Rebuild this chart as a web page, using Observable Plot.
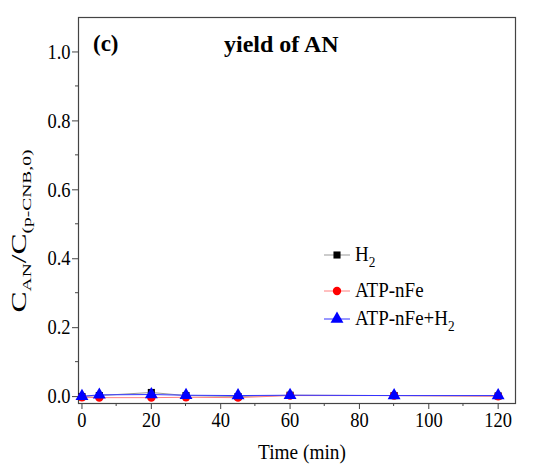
<!DOCTYPE html>
<html>
<head>
<meta charset="utf-8">
<script src="https://cdn.jsdelivr.net/npm/d3@7"></script>
<script src="https://cdn.jsdelivr.net/npm/@observablehq/plot@0.6"></script>
<style>
  html, body { margin: 0; padding: 0; background: #fff; }
  svg { display: block; }
  svg text { font-family: "Liberation Serif", "DejaVu Serif", serif; }
</style>
</head>
<body>
<div id="chart"></div>
<script>
const times = [0, 5, 20, 30, 45, 60, 90, 120];
const h2 = [0.000, 0.003, 0.012, 0.003, 0.000, 0.004, 0.003, 0.002];
const atp = [-0.002, -0.003, -0.003, -0.002, -0.003, 0.003, 0.003, 0.001];
const atpH2 = [0.001, 0.005, 0.006, 0.004, 0.003, 0.004, 0.003, 0.003];
const seriesNames = ["H2", "ATP-nFe", "ATP-nFe+H2"];
const xTicks = [0, 20, 40, 60, 80, 100, 120];
const xMinor = [10, 30, 50, 70, 90, 110];
const yTicks = [0.0, 0.2, 0.4, 0.6, 0.8, 1.0];
const yMinor = [0.1, 0.3, 0.5, 0.7, 0.9];

const styles = [
  {name: seriesNames[0], values: h2, line: "#999999", fill: "#000000", symbol: "square", r: 4},
  {name: seriesNames[1], values: atp, line: "#ff8080", fill: "#ff0000", symbol: "circle", r: 4.2},
  {name: seriesNames[2], values: atpH2, line: "#3333ff", fill: "#0000ff", symbol: "triangle", r: 4.8}
];
const rows = styles.flatMap(s => times.map((t, i) => ({series: s.name, t, v: s.values[i]})));

const axisColor = "#444";
const marks = [];
for (const s of styles) {
  const d = rows.filter(r => r.series === s.name);
  marks.push(Plot.line(d, {x: "t", y: "v", stroke: s.line, strokeWidth: 1}));
}
for (const s of styles) {
  const d = rows.filter(r => r.series === s.name);
  marks.push(Plot.dot(d, {x: "t", y: "v", fill: s.fill, stroke: "none", symbol: s.symbol, r: s.r}));
}

const chart = Plot.plot({
  width: 534,
  height: 473,
  marginLeft: 78,
  marginRight: 19,
  marginTop: 17,
  marginBottom: 70,
  style: {fontFamily: "'Liberation Serif', 'DejaVu Serif', serif", fontSize: "21px", color: "#000", background: "#fff"},
  x: {domain: [-1, 125]},
  y: {domain: [-0.02, 1.1]},
  marks: [
    Plot.axisX(xTicks, {tickSize: 6, tickPadding: 3, stroke: axisColor, fontSize: 21, label: null, tickFormat: d => String(d)}),
    Plot.axisY(yTicks, {tickSize: 6, tickPadding: 2, stroke: axisColor, fontSize: 21, label: null, tickFormat: d => d.toFixed(1)}),
    Plot.frame({stroke: axisColor, strokeWidth: 1.2}),
    ...marks
  ]
});
document.getElementById("chart").appendChild(chart);

const svg = d3.select(chart);
// condense tick labels slightly, as in the reference
svg.selectAll("g[aria-label$='tick label'] text").each(function () {
  const tr = this.getAttribute("transform") || "";
  this.setAttribute("transform", tr + " scale(0.88,1)");
});

const xs = chart.scale("x"), ys = chart.scale("y");
const font = "'Liberation Serif', 'DejaVu Serif', serif";

// minor ticks (positioned with the plot's scales)
const minor = svg.append("g").attr("stroke", axisColor).attr("stroke-width", 1);
const yBottom = ys.apply(-0.02), xLeft = xs.apply(-1);
xMinor.forEach(v => minor.append("line").attr("x1", xs.apply(v)).attr("x2", xs.apply(v))
  .attr("y1", yBottom).attr("y2", yBottom + 3));
yMinor.forEach(v => minor.append("line").attr("y1", ys.apply(v)).attr("y2", ys.apply(v))
  .attr("x1", xLeft).attr("x2", xLeft - 3));

// X label
svg.append("text").attr("transform", "translate(302,459) scale(0.92,1)").attr("text-anchor", "middle")
  .attr("font-family", font).attr("font-size", 21).text("Time (min)");

// Y label with subscripts
const yl = svg.append("text").attr("transform", "translate(26,231) rotate(-90) scale(1.5,1)")
  .attr("text-anchor", "middle").attr("font-family", font).attr("font-size", 21);
yl.append("tspan").text("C");
yl.append("tspan").attr("font-size", 13).attr("dy", 5).text("AN");
yl.append("tspan").attr("dy", -5).text("/C");
yl.append("tspan").attr("font-size", 13).attr("dy", 5).text("(p-CNB,0)");

// Panel annotations
svg.append("text").attr("x", 93).attr("y", 51).attr("font-family", font).attr("text-anchor", "start")
  .attr("font-weight", "bold").attr("font-size", 23).text("(c)");
svg.append("text").attr("x", 224).attr("y", 52).attr("font-family", font).attr("text-anchor", "start")
  .attr("font-weight", "bold").attr("font-size", 24).text("yield of AN");

// Legend
const legendY = [255, 291, 319];
styles.forEach((s, i) => {
  const g = svg.append("g");
  const y = legendY[i];
  g.append("line").attr("x1", 324).attr("x2", 350).attr("y1", y).attr("y2", y)
    .attr("stroke", s.line).attr("stroke-width", 1);
  const sym = s.symbol === "square" ? d3.symbolSquare : s.symbol === "circle" ? d3.symbolCircle : d3.symbolTriangle;
  const size = Math.PI * s.r * s.r;
  g.append("path").attr("d", d3.symbol(sym, size)()).attr("transform", `translate(337,${y})`)
    .attr("fill", s.fill);
  const t = g.append("text").attr("transform", `translate(355,${y + 6}) scale(0.95,1)`).attr("text-anchor", "start")
    .attr("font-family", font).attr("font-size", 20);
  if (s.name === "H2") {
    t.append("tspan").text("H");
    t.append("tspan").attr("font-size", 14).attr("dy", 6).text("2");
  } else if (s.name === "ATP-nFe+H2") {
    t.append("tspan").text("ATP-nFe+H");
    t.append("tspan").attr("font-size", 14).attr("dy", 6).text("2");
  } else {
    t.text(s.name);
  }
});
</script>
</body>
</html>
